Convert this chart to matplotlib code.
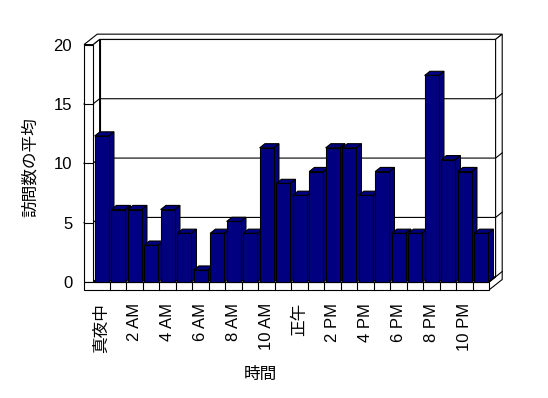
import matplotlib
matplotlib.use("Agg")
import matplotlib.pyplot as plt
from matplotlib.patches import Polygon, Rectangle

plt.rcParams['font.family'] = ['Liberation Sans', 'Noto Sans CJK JP', 'DejaVu Sans']

# data
hours = list(range(24))
visits = [12.3, 6.1, 6.1, 3.1, 6.1, 4.1, 1.0, 4.1, 5.1, 4.1, 11.3, 8.3,
          7.3, 9.3, 11.3, 11.3, 7.3, 9.3, 4.1, 4.1, 17.4, 10.3, 9.3, 4.1]
hour_labels = ['真夜中', '2 AM', '4 AM', '6 AM', '8 AM', '10 AM',
               '正午', '2 PM', '4 PM', '6 PM', '8 PM', '10 PM']
y_ticks = [0, 5, 10, 15, 20]

NAVY = '#000080'
LW = 0.8
YMAX = 20
N = len(hours)
DX, DY = 0.40, 0.44      # one step of depth, in data units
WALL = 0.545             # left wall thickness (category units)
FLOOR = 0.67             # floor thickness (value units)
BAR_W = 0.85
BAR_D = 0.8


def back(x, y, d):
    return (x + d * DX, y + d * DY)


fig = plt.figure(figsize=(5.48, 3.98), dpi=100)
ax = fig.add_axes([93 / 548, 116 / 398, 396 / 548, 237.4 / 398])
ax.set_xlim(0, N)
ax.set_ylim(0, YMAX)
for s in ax.spines.values():
    s.set_visible(False)


def poly(pts, z, fc='white'):
    ax.add_patch(Polygon(pts, closed=True, facecolor=fc, edgecolor='black',
                         lw=LW, zorder=z, clip_on=False, joinstyle='miter'))


# walls and floor
poly([back(0, 0, 1), back(N, 0, 1), back(N, YMAX, 1), back(0, YMAX, 1)], 1)
poly([(0, 0), back(0, 0, 1), back(0, YMAX, 1), (0, YMAX)], 1)
poly([(-WALL, YMAX), (0, YMAX), back(0, YMAX, 1), back(N, YMAX, 1),
      back(N, YMAX, 2), back(-WALL, YMAX, 2)], 1)
poly([(N, -FLOOR), (N, 0), back(N, 0, 1), back(N, YMAX, 1),
      back(N, YMAX, 2), back(N, -FLOOR, 2)], 1)
poly([(0, 0), (N, 0), back(N, 0, 1), back(0, 0, 1)], 1)
ax.plot(*zip((N, 0), back(N, 0, 2)), color='black', lw=LW, zorder=1.5, clip_on=False)

# grid lines wrapping round the walls
for v in y_ticks[1:-1]:
    pts = [(-WALL, v), (0, v), back(0, v, 1), back(N, v, 1), back(N, v, 2)]
    ax.plot(*zip(*pts), color='black', lw=LW, zorder=2, clip_on=False)

# left wall front face and floor front face
poly([(-WALL, 0), (0, 0), (0, YMAX), (-WALL, YMAX)], 2.5)
poly([(-WALL, -FLOOR), (N, -FLOOR), (N, 0), (-WALL, 0)], 2.5)
for v in y_ticks[1:-1]:
    ax.plot([-WALL, 0], [v, v], color='black', lw=LW, zorder=2.6, clip_on=False)
for i in range(1, N):
    ax.plot([i, i], [-FLOOR, 0], color='black', lw=LW, zorder=2.6, clip_on=False)

# bars, left to right so each front hides the previous side
for i, v in zip(hours, visits):
    x0 = i + 0.1
    x1 = x0 + BAR_W
    z = 3 + i * 0.01
    poly([(x1, 0), (x1, v), back(x1, v, BAR_D), back(x1, 0, BAR_D)], z, NAVY)
    poly([(x0, v), (x1, v), back(x1, v, BAR_D), back(x0, v, BAR_D)], z, NAVY)
    ax.add_patch(Rectangle((x0, 0), BAR_W, v, facecolor=NAVY, edgecolor='black',
                           lw=LW, zorder=z, clip_on=False))

ax.set_yticks(y_ticks)
ax.set_yticklabels([str(t) for t in y_ticks])
ax.set_xticks([i + 0.5 for i in hours[::2]])
ax.set_xticklabels(hour_labels, rotation=90)
ax.tick_params(axis='y', length=0, pad=15, labelsize=12)
ax.tick_params(axis='x', length=0, pad=15, labelsize=12)

ax.set_ylabel('訪問数の平均', fontsize=12)
ax.yaxis.set_label_coords(-0.138, 0.482)
ax.set_xlabel('時間', fontsize=12)
ax.xaxis.set_label_coords(0.4217, -0.358)

fig.savefig('out.png', dpi=100)
